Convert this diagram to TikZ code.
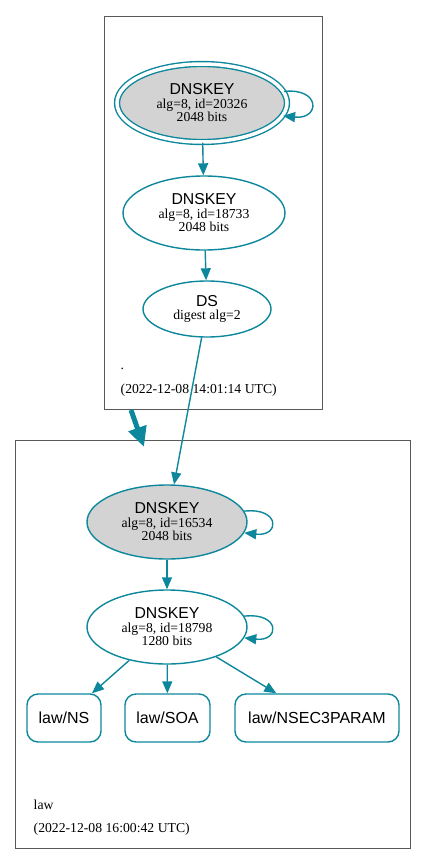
\documentclass[tikz,border=0pt]{standalone}
\usepackage{fontspec}
\setmainfont{Liberation Serif}
\setsansfont{Liberation Sans}
\usetikzlibrary{arrows.meta,shapes.geometric}
\definecolor{dnsteal}{RGB}{12,135,155}
\definecolor{keygray}{RGB}{211,211,211}
\newcommand{\keyfont}{\sffamily\fontsize{15.8}{13.5}\selectfont}

\begin{document}
\begin{tikzpicture}[x=1pt,y=-1pt,>={Triangle[length=12pt,width=10pt]},line width=1.4pt]
	\tikzset{key/.style={ellipse,draw=dnsteal,fill=white,text=black,inner sep=0pt,align=center,font=\fontsize{13.7}{13.5}\selectfont},
		rrset/.style={rectangle,rounded corners=11pt,draw=dnsteal,text=black,font=\sffamily\fontsize{16}{18}\selectfont,minimum height=48pt,inner sep=0pt},
		zone/.style={rectangle,draw=black!65,line width=0.8pt,inner sep=0pt},
		edge/.style={->,color=dnsteal},
		stamp/.style={anchor=west,inner sep=0pt,font=\fontsize{13.7}{15}\selectfont}}
	\useasboundingbox (0,0) rectangle (427,865);

	% zones
	\node[zone,minimum width=218pt,minimum height=393pt] (root) at (213,212.5) {};
	\node[zone,minimum width=395pt,minimum height=408pt] (law) at (212.5,644) {};
	\node[stamp] (rootname) at (120,369) {.};
	\node[stamp] (roottime) at (120,390) {(2022-12-08 14:01:14 UTC)};
	\node[stamp] (lawname) at (33,805) {law};
	\node[stamp] (lawtime) at (33,829) {(2022-12-08 16:00:42 UTC)};

	% root keys
	\node[key,fill=keygray,double=white,double distance=3.5pt,minimum width=170pt,minimum height=78pt] (1) at (202,103) {{\keyfont DNSKEY}\\alg=8, id=20326\\2048 bits};
	\node[key,minimum width=162pt,minimum height=74pt] (2) at (204,213) {{\keyfont DNSKEY}\\alg=8, id=18733\\2048 bits};
	\node[key,minimum width=128pt,minimum height=56pt] (3) at (207,309) {{\keyfont DS}\\digest alg=2};

	% law keys
	\node[key,fill=keygray,minimum width=160pt,minimum height=74pt] (4) at (167,522) {{\keyfont DNSKEY}\\alg=8, id=16534\\2048 bits};
	\node[key,minimum width=160pt,minimum height=74pt] (5) at (167,627) {{\keyfont DNSKEY}\\alg=8, id=18798\\1280 bits};
	\node[rrset,minimum width=74pt] (6) at (64,718) {law/NS};
	\node[rrset,minimum width=85pt] (7) at (167.5,718) {law/SOA};
	\node[rrset,minimum width=164pt] (8) at (317,718) {law/NSEC3PARAM};

	\path[edge] (1) edge (2);
	\path[edge] (2) edge (3);
	\path[edge] (3) edge (4);
	\path[edge] (4) edge (5);
	\path[edge] (5) edge (6);
	\path[edge] (5) edge (7);
	\path[edge] (5) edge (8);
	\draw[edge] (1.8) .. controls +(37,-4) and +(37,4) .. (1.-9);
	\draw[edge] (4.8) .. controls +(36,-4) and +(36,4) .. (4.-8);
	\draw[edge] (5.8) .. controls +(36,-4) and +(36,4) .. (5.-8);

	% zone delegation
	\coordinate (rootout) at (131,410);
	\coordinate (lawin) at (144,447);
	\draw[edge,line width=5pt,>={Triangle[length=20pt,width=18pt]}] (rootout) -- (lawin);
\end{tikzpicture}
\end{document}
